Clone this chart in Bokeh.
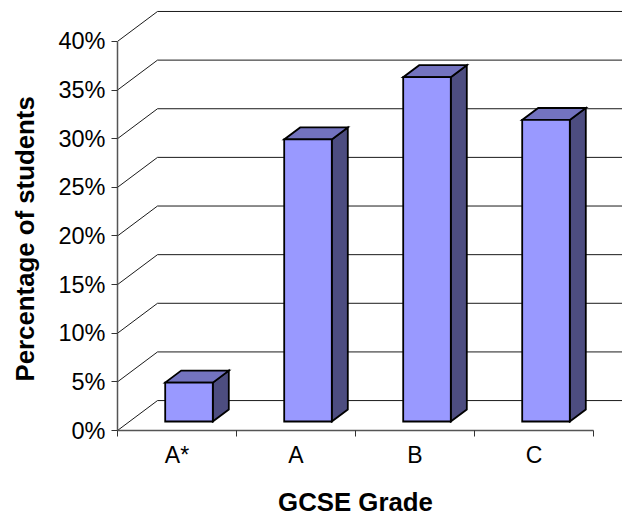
from bokeh.embed import file_html
from bokeh.models import FixedTicker, LinearAxis, PrintfTickFormatter, Range1d
from bokeh.plotting import figure
from bokeh.resources import INLINE

# Data
categories = ["A*", "A", "B", "C"]
values = [4, 29, 35.4, 31]
y_ticks = [0, 5, 10, 15, 20, 25, 30, 35, 40]
x_title = "GCSE Grade"
y_title = "Percentage of students"

# 3D projection settings (data units per unit of depth)
DEPTH_X = 40 / 119
DEPTH_Y = 30 / 9.75
BAR_WIDTH = 0.4
BAR_D0 = 0.3
BAR_D1 = 0.7

FONT = "Liberation Sans"
FRONT = "#9999FF"
TOP = "#7373BF"
SIDE = "#4D4D80"


def proj(x, y, d):
    return x + d * DEPTH_X, y + d * DEPTH_Y


p = figure(
    width=622, height=518, output_backend="svg", toolbar_location=None,
    x_range=Range1d(0, 505 / 119), y_range=Range1d(0, 431 / 9.75),
    min_border_left=117, min_border_right=0, min_border_top=0, min_border_bottom=87,
    background_fill_color="white", border_fill_color="white",
)
p.outline_line_color = None
p.grid.visible = False

# Walls: slanted floor/side line then horizontal back line per tick
gx, gy = [], []
for t in y_ticks:
    x1, y1 = proj(0, t, 1)
    x2, y2 = proj(len(categories), t, 1)
    gx.append([0, x1, x2])
    gy.append([t, y1, y2])
p.multi_line(gx, gy, line_color="#1a1a1a", line_width=1)

# Bars
front_x, front_y, top_x, top_y, side_x, side_y = [], [], [], [], [], []
for i, v in enumerate(values):
    l = i + 0.5 - BAR_WIDTH / 2
    r = i + 0.5 + BAR_WIDTH / 2
    c = [proj(l, 0, BAR_D0), proj(r, 0, BAR_D0), proj(r, v, BAR_D0), proj(l, v, BAR_D0)]
    front_x.append([a for a, _ in c])
    front_y.append([b for _, b in c])
    c = [proj(l, v, BAR_D0), proj(r, v, BAR_D0), proj(r, v, BAR_D1), proj(l, v, BAR_D1)]
    top_x.append([a for a, _ in c])
    top_y.append([b for _, b in c])
    c = [proj(r, 0, BAR_D0), proj(r, 0, BAR_D1), proj(r, v, BAR_D1), proj(r, v, BAR_D0)]
    side_x.append([a for a, _ in c])
    side_y.append([b for _, b in c])
for xs, ys, col in [(side_x, side_y, SIDE), (top_x, top_y, TOP), (front_x, front_y, FRONT)]:
    p.patches(xs, ys, fill_color=col, line_color="black", line_width=1.8, line_join="miter")

# Y axis
ya = p.yaxis[0]
ya.ticker = FixedTicker(ticks=y_ticks)
ya.formatter = PrintfTickFormatter(format="%d%%")
ya.bounds = (0, 40)
ya.axis_line_color = "#555555"
ya.axis_line_width = 1.5
ya.major_tick_in = 0
ya.major_tick_out = 6
ya.major_tick_line_color = "#333333"
ya.minor_tick_line_color = None
ya.major_label_text_font = FONT
ya.major_label_text_font_size = "23.5px"
ya.major_label_text_color = "black"
ya.major_label_standoff = 6

# X axis: labels centred, ticks on the category boundaries
xa = p.xaxis[0]
centers = [i + 0.5 for i in range(len(categories))]
xa.ticker = FixedTicker(ticks=centers, minor_ticks=list(range(len(categories) + 1)))
xa.major_label_overrides = dict(zip(centers, categories))
xa.bounds = (0, len(categories))
xa.axis_line_color = "#555555"
xa.axis_line_width = 1.5
xa.major_tick_in = 0
xa.major_tick_out = 0
xa.minor_tick_in = 0
xa.minor_tick_out = 6
xa.minor_tick_line_color = "#333333"
xa.major_label_text_font = FONT
xa.major_label_text_font_size = "23px"
xa.major_label_text_color = "black"
xa.major_label_standoff = 5


# Axis titles: a bare outer axis whose single label sits at the axis centre
def title_axis(text, pos, place, standoff, orientation):
    axis = LinearAxis(
        ticker=FixedTicker(ticks=[pos], minor_ticks=[]),
        major_label_overrides={pos: text},
        major_label_standoff=standoff,
        major_label_orientation=orientation,
        major_label_text_font=FONT,
        major_label_text_font_size="25.8px",
        major_label_text_font_style="bold",
        major_label_text_color="black",
        axis_line_color=None,
        major_tick_line_color=None,
        minor_tick_line_color=None,
    )
    p.add_layout(axis, place)


title_axis(x_title, 2, "below", 11, "horizontal")
title_axis(y_title, 19.7, "left", 10, "vertical")

open("out.html", "w").write(file_html(p, INLINE))
